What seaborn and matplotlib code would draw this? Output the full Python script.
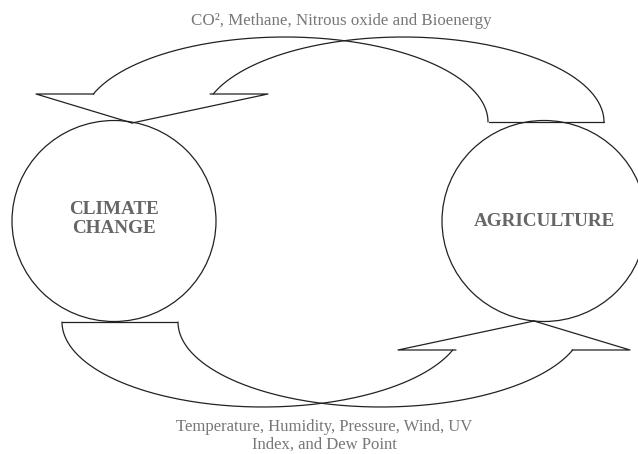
import numpy as np
import pandas as pd
import seaborn as sns
from matplotlib import pyplot as plt
from matplotlib.patches import Ellipse

sns.set_style("white")
plt.rcParams['font.family'] = ['Liberation Serif', 'DejaVu Serif']

# texts of the diagram
node_labels = ["CLIMATE\nCHANGE", "AGRICULTURE"]
top_label = "CO\u00b2, Methane, Nitrous oxide and Bioenergy"
bottom_label = "Temperature, Humidity, Pressure, Wind, UV\nIndex, and Dew Point"

# geometry (pixel units, y grows downward)
node_x = [114, 544]
node_y = [221, 221]
label_y = [219, 221]
node_w = 204
node_h = 201
arc_cx = [285, 403]      # centres of the two top ribbon arcs
arc_rx = [203, 201]
arc_ry = 85
arc_base = 122           # y of the ribbon tail
head_y = 94              # y of the arrow head flats
head_flats = [(36, 94), (210, 268)]
head_tip = (132, 123)
tail_flat = (489, 604)
pivot = (666, 444)       # the lower ribbon is the upper one turned by 180 deg

W, H = 638, 454
fig = plt.figure(figsize=(W / 100, H / 100), dpi=100)
ax = fig.add_axes([0, 0, 1, 1])
ax.set_xlim(0, W)
ax.set_ylim(H, 0)
ax.axis('off')

ink = '#222222'
lw = 0.9


def draw(xs, ys):
    d = pd.DataFrame({'x': xs, 'y': ys})
    sns.lineplot(data=d, x='x', y='y', sort=False, estimator=None,
                 color=ink, lw=lw, ax=ax)


def ribbon(flip):
    def tr(xs, ys):
        xs, ys = np.asarray(xs, float), np.asarray(ys, float)
        if flip:
            return pivot[0] - xs, pivot[1] - ys
        return xs, ys
    t0 = np.arcsin((arc_base - head_y) / arc_ry)
    t = np.linspace(t0, np.pi, 200)
    for cx, rx in zip(arc_cx, arc_rx):
        draw(*tr(cx - rx * np.cos(t), arc_base - arc_ry * np.sin(t)))
    # tail
    draw(*tr(tail_flat, [arc_base, arc_base]))
    # arrow head
    draw(*tr([head_flats[0][1], head_flats[0][0], head_tip[0]],
             [head_y, head_y, head_tip[1]]))
    draw(*tr([head_flats[1][0], head_flats[1][1], head_tip[0]],
             [head_y, head_y, head_tip[1]]))


ribbon(False)
ribbon(True)

for x, y, ly, lab in zip(node_x, node_y, label_y, node_labels):
    ax.add_patch(Ellipse((x, y), node_w, node_h, fill=False, ec=ink, lw=lw))
    ax.text(x, ly, lab, ha='center', va='center', fontsize=13.8,
            fontweight='bold', color='#666666', linespacing=1.15)

ax.text(341, 21, top_label, ha='center', va='center', fontsize=12.2,
        color='#777777')
ax.text(324, 436, bottom_label, ha='center', va='center', fontsize=12,
        color='#777777', linespacing=1.18)

fig.savefig('out.png', dpi=100)
